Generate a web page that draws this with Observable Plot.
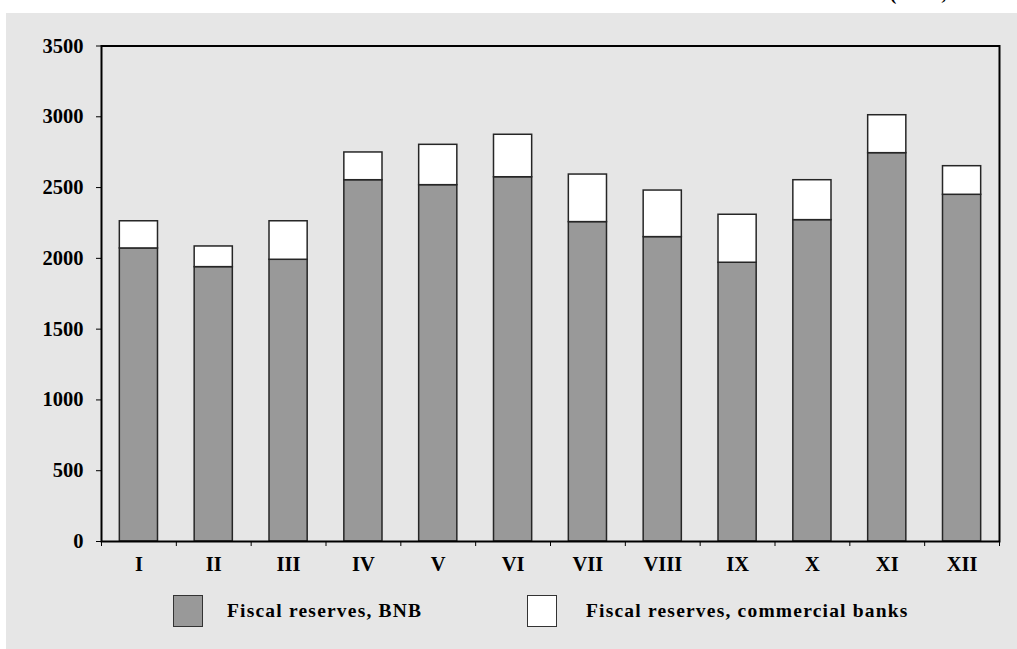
<!DOCTYPE html>
<html>
<head>
<meta charset="utf-8">
<script src="https://cdn.jsdelivr.net/npm/d3@7"></script>
<script src="https://cdn.jsdelivr.net/npm/@observablehq/plot@0.6"></script>
<style>
  html, body { margin: 0; padding: 0; background: #ffffff; overflow: hidden; }
  body { width: 1017px; height: 649px; position: relative; font-family: "Liberation Serif", "Times New Roman", serif; }
  #unit { position: absolute; left: 890px; top: -16px; font-size: 19px; line-height: 20px; font-weight: bold; letter-spacing: 1px; color: #000; white-space: nowrap; }
  #panel { position: absolute; left: 6px; top: 13px; right: 0; bottom: 0; background: #e6e6e6; }
  #chart { position: absolute; left: 0; top: 0; }
  .legend { position: absolute; top: 582px; left: 0; height: 32px; display: flex; align-items: center; }
  .sw { width: 28px; height: 30px; border: 1.5px solid #333; box-sizing: content-box; }
  .lab { font-size: 19.5px; font-weight: bold; letter-spacing: 1.2px; margin-left: 24px; white-space: nowrap; }
</style>
</head>
<body>
<div id="unit">(BGN, million)</div>
<div id="panel">
  <div id="chart"></div>
  <div class="legend" style="left:167px"><div class="sw" style="background:#999999"></div><div class="lab">Fiscal reserves, BNB</div></div>
  <div class="legend" style="left:521px"><div class="sw" style="background:#ffffff"></div><div class="lab" style="margin-left:29px">Fiscal reserves, commercial banks</div></div>
</div>
<script>
// Months of the year as Roman numerals
const months = ["I", "II", "III", "IV", "V", "VI", "VII", "VIII", "IX", "X", "XI", "XII"];
// Fiscal reserves held at the BNB (BGN million)
const bnb = [2070, 1938, 1990, 2552, 2517, 2573, 2256, 2150, 1969, 2270, 2743, 2449];
// Fiscal reserves held at commercial banks (BGN million)
const commercial = [192, 146, 272, 196, 285, 300, 336, 329, 339, 282, 268, 202];
// Y axis ticks
const yTicks = [0, 500, 1000, 1500, 2000, 2500, 3000, 3500];

const seriesNames = ["Fiscal reserves, BNB", "Fiscal reserves, commercial banks"];
const rows = months.flatMap((m, i) => [
  {month: m, series: seriesNames[0], value: bnb[i]},
  {month: m, series: seriesNames[1], value: commercial[i]}
]);

const W = 1011, H = 575;
const mL = 95, mR = 18, mT = 32.5, mB = 47;
const step = (W - mL - mR) / months.length;
const font = "Liberation Serif, Times New Roman, serif";

const chart = Plot.plot({
  width: W,
  height: H,
  marginLeft: mL,
  marginRight: mR,
  marginTop: mT,
  marginBottom: mB,
  style: {background: "transparent", fontFamily: font, color: "#000"},
  x: {domain: months, paddingInner: 0.49, paddingOuter: 0.245, round: false, label: null},
  y: {domain: [0, 3500], label: null},
  color: {domain: seriesNames, range: ["#999999", "#ffffff"]},
  marks: [
    Plot.barY(rows, {
      x: "month", y: "value", fill: "series",
      stroke: "#262626", strokeWidth: 1.5,
      order: seriesNames
    }),
    Plot.axisY({ticks: yTicks, tickSize: 5, tickPadding: 13, tickFormat: d => String(d),
      fontSize: 20.5, fontWeight: "bold", stroke: "#000", label: null}),
    // month labels under the bars
    Plot.axisX({tickSize: 0, tickPadding: 15, fontSize: 20.5, fontWeight: "bold", label: null}),
    // tick marks between months
    Plot.axisX({tickSize: 5, text: null, dx: -step / 2, label: null, stroke: "#000"}),
    Plot.axisX({ticks: [months[months.length - 1]], tickSize: 5, text: null, dx: step / 2, label: null, stroke: "#000"}),
    Plot.frame({stroke: "#000", strokeWidth: 2})
  ]
});
document.getElementById("chart").appendChild(chart);
</script>
</body>
</html>
